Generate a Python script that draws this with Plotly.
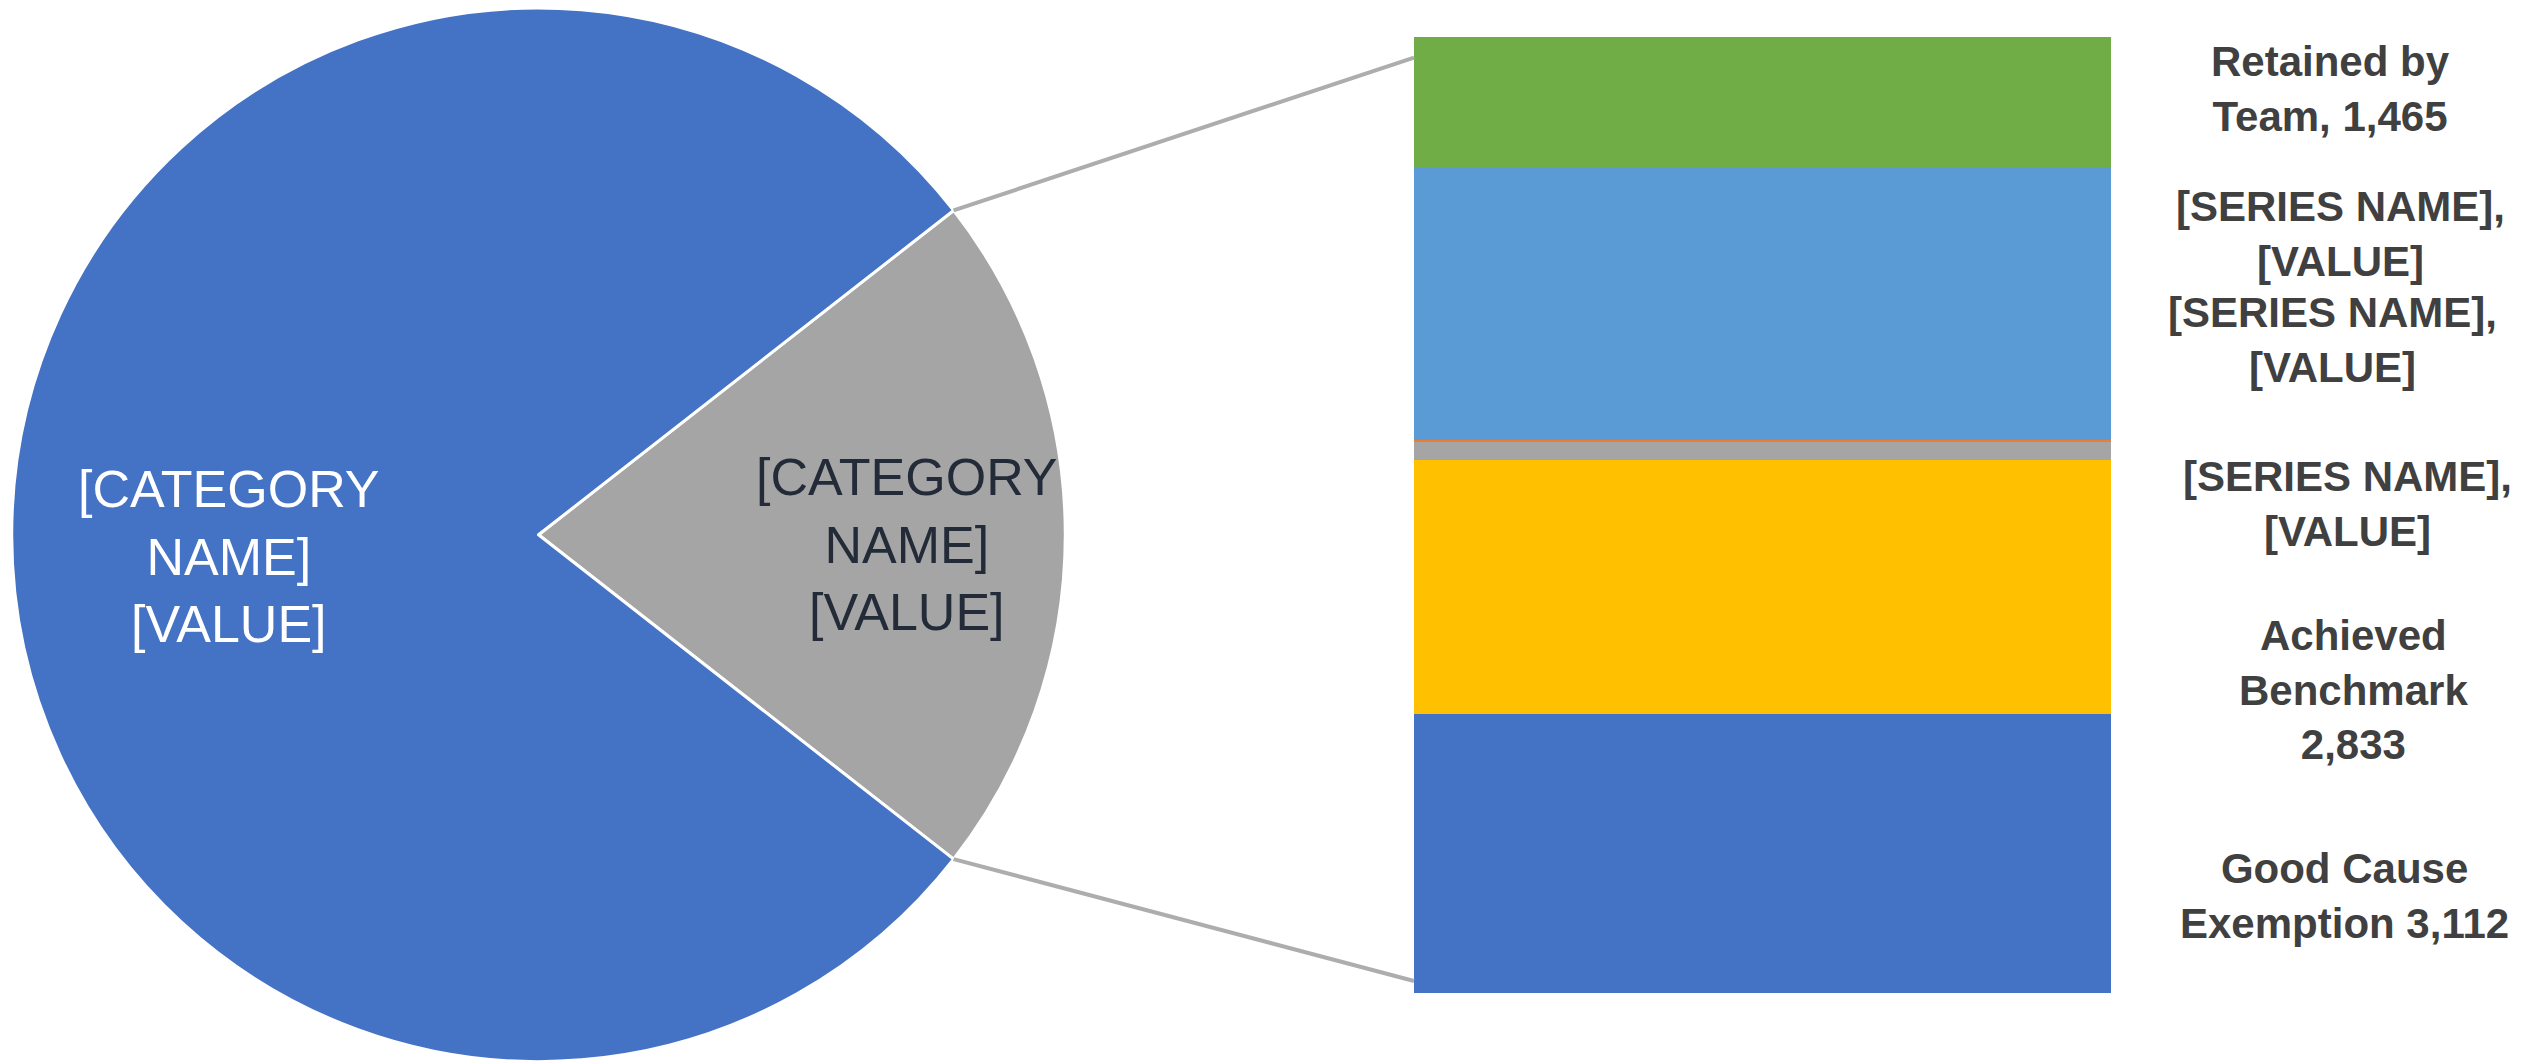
import math
import plotly.graph_objects as go

# ---------------- data ----------------
pie_labels = ["[CATEGORY NAME] (other)", "[CATEGORY NAME]"]
pie_main_value = 39850

bar_series = ["Good Cause Exemption", "Achieved Benchmark", "[SERIES NAME] A",
              "[SERIES NAME] B", "[SERIES NAME] C", "Retained by Team"]
bar_values = [3112, 2833, 212, 15, 3028, 1465]
bar_colors = ["#4472C4", "#FFC000", "#A5A5A5", "#ED7D31", "#5B9BD5", "#70AD47"]

pie_other_value = sum(bar_values)
pie_values = [pie_other_value, pie_main_value]
pie_colors = ["#A5A5A5", "#4472C4"]

bar_label_texts = [
    f"Good Cause<br>Exemption {bar_values[0]:,}",
    f"Achieved<br>Benchmark<br>{bar_values[1]:,}",
    "[SERIES NAME],<br>[VALUE]",
    "[SERIES NAME],<br>[VALUE]",
    "[SERIES NAME],<br>[VALUE]",
    f"Retained by<br>Team, {bar_values[5]:,}",
]
pie_label_texts = ["[CATEGORY<br>NAME]<br>[VALUE]", "[CATEGORY<br>NAME]<br>[VALUE]"]

# ---------------- layout constants ----------------
W, H = 2522, 1061
FONT = "Liberation Sans, Arial, sans-serif"
pie_dom_x = [0.0014, 0.4193]
pie_dom_y = [0.0070, 1.0]
bar_dom_x = [0.5575, 0.8339]
bar_dom_y = [0.0716, 0.9727]

# label positions (paper coords), in series order
bar_label_pos = [(0.9263, 0.1631), (0.9302, 0.3572), (0.9278, 0.5325),
                 (0.9215, 0.6871), (0.9247, 0.7870), (0.9207, 0.9232)]
pie_label_pos = [(0.3561, 0.4948), (0.0876, 0.4826)]
pie_label_colors = ["#232B38", "#FFFFFF"]

total_pie = sum(pie_values)
other_angle = 360.0 * pie_other_value / total_pie
rotation = 90 - other_angle / 2

fig = go.Figure()

fig.add_trace(go.Pie(
    labels=pie_labels, values=pie_values, sort=False, direction="clockwise",
    rotation=rotation, marker=dict(colors=pie_colors, line=dict(color="white", width=3)),
    textinfo="none", hoverinfo="label+value", showlegend=False,
    domain=dict(x=pie_dom_x, y=pie_dom_y),
))

for name, val, col in zip(bar_series, bar_values, bar_colors):
    fig.add_trace(go.Bar(
        x=[""], y=[val], name=name, marker=dict(color=col, line=dict(width=0)),
        showlegend=False, hoverinfo="name+y",
    ))

annotations = []
for txt, (ax, ay) in zip(bar_label_texts, bar_label_pos):
    annotations.append(dict(
        text=txt, x=ax, y=ay, xref="paper", yref="paper", showarrow=False,
        xanchor="center", yanchor="middle", align="center",
        font=dict(family=FONT, size=42, color="#404040", weight="bold"),
    ))
for txt, (ax, ay), c in zip(pie_label_texts, pie_label_pos, pie_label_colors):
    annotations.append(dict(
        text=txt, x=ax, y=ay, xref="paper", yref="paper", showarrow=False,
        xanchor="center", yanchor="middle", align="center",
        font=dict(family=FONT, size=52, color=c),
    ))

# connector lines from the "other" slice edges to the bar
cx = (pie_dom_x[0] + pie_dom_x[1]) / 2 * W
cy = (1 - (pie_dom_y[0] + pie_dom_y[1]) / 2) * H
r = min((pie_dom_x[1] - pie_dom_x[0]) * W, (pie_dom_y[1] - pie_dom_y[0]) * H) / 2
half = math.radians(other_angle / 2)
px_top = (cx + r * math.cos(half), cy - r * math.sin(half))
px_bot = (cx + r * math.cos(half), cy + r * math.sin(half))
bar_left = bar_dom_x[0]
conn_top_y = 0.9533
conn_bot_y = 0.0829
shapes = [
    dict(type="line", xref="paper", yref="paper",
         x0=px_top[0] / W, y0=1 - px_top[1] / H, x1=bar_left, y1=conn_top_y,
         line=dict(color="#ADADAD", width=4)),
    dict(type="line", xref="paper", yref="paper",
         x0=px_bot[0] / W, y0=1 - px_bot[1] / H, x1=bar_left, y1=conn_bot_y,
         line=dict(color="#ADADAD", width=4)),
]

fig.update_layout(
    width=W, height=H, autosize=False,
    margin=dict(l=0, r=0, t=0, b=0),
    paper_bgcolor="white", plot_bgcolor="white",
    barmode="stack", bargap=0,
    xaxis=dict(domain=bar_dom_x, visible=False, fixedrange=True),
    yaxis=dict(domain=bar_dom_y, visible=False, range=[0, sum(bar_values)], fixedrange=True),
    annotations=annotations, shapes=shapes,
    font=dict(family=FONT),
)

fig.write_html("out.html")
